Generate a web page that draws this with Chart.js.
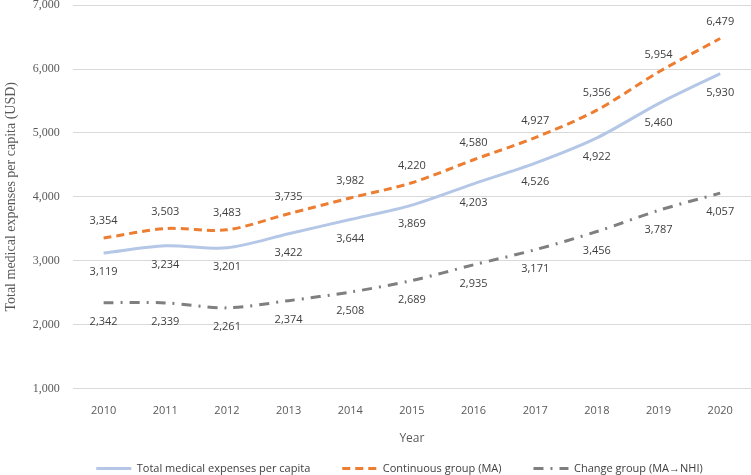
<!DOCTYPE html>
<html>
<head>
<meta charset="utf-8">
<script src="https://cdn.jsdelivr.net/npm/chart.js@4.4.0/dist/chart.umd.min.js"></script>
<style>
  html, body { margin: 0; padding: 0; background: #ffffff; }
  #wrap { width: 751px; height: 475px; overflow: hidden; }
  #grafico { display: block; margin-top: -15px; }
</style>
</head>
<body>
<div id="wrap"><canvas id="grafico" width="751" height="512"></canvas></div>
<script>
// datos
const anios = ['2010', '2011', '2012', '2013', '2014', '2015', '2016', '2017', '2018', '2019', '2020'];
const gastoTotal = [3119, 3234, 3201, 3422, 3644, 3869, 4203, 4526, 4922, 5460, 5930];
const grupoContinuo = [3354, 3503, 3483, 3735, 3982, 4220, 4580, 4927, 5356, 5954, 6479];
const grupoCambio = [2342, 2339, 2261, 2374, 2508, 2689, 2935, 3171, 3456, 3787, 4057];
const ticksY = [1000, 2000, 3000, 4000, 5000, 6000, 7000];

const fmt = v => v.toLocaleString('en-US');

// etiquetas de valores: arriba para el grupo continuo, abajo para los otros
const etiquetasPlugin = {
  id: 'etiquetas',
  afterDatasetsDraw(chart) {
    const ctx = chart.ctx;
    ctx.save();
    ctx.font = '11px "Open Sans", sans-serif';
    ctx.fillStyle = '#404040';
    ctx.textAlign = 'center';
    ctx.textBaseline = 'middle';
    chart.data.datasets.forEach((ds, i) => {
      const meta = chart.getDatasetMeta(i);
      const desplazamiento = ds.etiquetaArriba ? -17 : 19;
      meta.data.forEach((pt, j) => {
        ctx.fillText(fmt(ds.data[j]), pt.x, pt.y + desplazamiento);
      });
    });
    ctx.restore();
  }
};

// acomodar la leyenda un poco mas arriba y a la derecha
const moverLeyenda = {
  id: 'moverLeyenda',
  afterLayout(chart) {
    const lg = chart.legend;
    if (!lg) return;
    lg.top -= 17; lg.bottom -= 17;
    lg.left += 20; lg.right += 20;
  }
};

new Chart(document.getElementById('grafico'), {
  type: 'line',
  data: {
    labels: anios,
    datasets: [
      {
        label: 'Total medical expenses per capita',
        data: gastoTotal,
        borderColor: '#b4c7e7',
        backgroundColor: '#b4c7e7',
        borderWidth: 3,
        pointRadius: 0,
        tension: 0.3,
        etiquetaArriba: false
      },
      {
        label: 'Continuous group (MA)',
        data: grupoContinuo,
        borderColor: '#ed7d31',
        backgroundColor: '#ed7d31',
        borderWidth: 3,
        borderDash: [8, 5],
        pointRadius: 0,
        tension: 0.3,
        etiquetaArriba: true
      },
      {
        label: 'Change group (MA\u2192NHI)',
        data: grupoCambio,
        borderColor: '#7f7f7f',
        backgroundColor: '#7f7f7f',
        borderWidth: 3,
        borderDash: [10, 7, 2, 7],
        pointRadius: 0,
        tension: 0.3,
        etiquetaArriba: false
      }
    ]
  },
  options: {
    responsive: false,
    animation: false,
    layout: { padding: { top: 0, right: -5, bottom: -4, left: 3 } },
    plugins: {
      tooltip: { enabled: false },
      legend: {
        position: 'bottom',
        labels: {
          usePointStyle: true,
          pointStyle: 'line',
          pointStyleWidth: 35,
          boxHeight: 3,
          padding: 32,
          color: '#404040',
          font: { family: '"Open Sans", sans-serif', size: 11 },
          generateLabels(chart) {
            return chart.data.datasets.map((ds, i) => ({
              text: ds.label,
              strokeStyle: ds.borderColor,
              fillStyle: ds.borderColor,
              lineWidth: 3,
              lineDash: ds.borderDash || [],
              pointStyle: 'line',
              fontColor: '#404040',
              datasetIndex: i
            }));
          }
        }
      }
    },
    scales: {
      x: {
        offset: true,
        grid: { display: false },
        border: { display: false },
        ticks: { color: '#595959', font: { family: '"Open Sans", sans-serif', size: 11 }, padding: 8 },
        title: { display: true, text: 'Year', color: '#595959', font: { family: '"Open Sans", sans-serif', size: 12 }, padding: { top: 6, bottom: 2 } }
      },
      y: {
        min: 1000,
        max: 7000,
        afterBuildTicks(axis) { axis.ticks = ticksY.map(v => ({ value: v })); },
        grid: { color: '#d9d9d9', drawTicks: false },
        border: { display: false },
        ticks: { color: '#595959', font: { family: '"Liberation Serif", serif', size: 12 }, padding: 13, callback: v => fmt(v) },
        title: { display: true, text: 'Total medical expenses per capita (USD)', color: '#595959', font: { family: '"Liberation Serif", serif', size: 14 }, padding: { top: 0, bottom: 0 } }
      }
    }
  },
  plugins: [etiquetasPlugin, moverLeyenda]
});
</script>
</body>
</html>
